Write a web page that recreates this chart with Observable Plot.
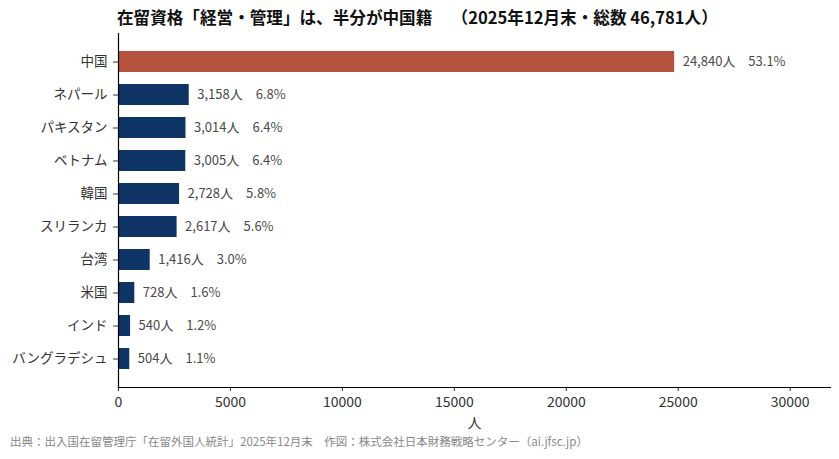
<!DOCTYPE html>
<html>
<head>
<meta charset="utf-8">
<script src="https://cdn.jsdelivr.net/npm/d3@7"></script>
<script src="https://cdn.jsdelivr.net/npm/@observablehq/plot@0.6"></script>
<style>
  body { margin: 0; background: #fff; font-family: "Noto Sans CJK JP", "Noto Sans", sans-serif; }
  #wrap { position: relative; width: 839px; height: 459px; overflow: hidden; }
  #title { position: absolute; left: 117px; top: 5px; font-size: 16.6px; font-weight: bold; color: #111; white-space: pre; }
  #chart { position: absolute; left: 0; top: 31px; }
  #caption { position: absolute; left: 10px; top: 433px; font-size: 11.5px; color: #888; white-space: pre; }
</style>
</head>
<body>
<div id="wrap">
  <div id="title">在留資格「経営・管理」は、半分が中国籍　<span style="margin-left:11px">（2025年12月末・総数 46,781人）</span></div>
  <div id="chart"></div>
  <div id="caption">出典：出入国在留管理庁「在留外国人統計」2025年12月末　作図：株式会社日本財務戦略センター（ai.jfsc.jp）</div>
</div>
<script>
const countries = ["中国", "ネパール", "パキスタン", "ベトナム", "韓国", "スリランカ", "台湾", "米国", "インド", "バングラデシュ"];
const counts = [24840, 3158, 3014, 3005, 2728, 2617, 1416, 728, 540, 504];
const shares = [53.1, 6.8, 6.4, 6.4, 5.8, 5.6, 3.0, 1.6, 1.2, 1.1];
const xTicks = [0, 5000, 10000, 15000, 20000, 25000, 30000];

const data = countries.map((c, i) => ({
  country: c,
  count: counts[i],
  share: shares[i],
  highlight: i === 0,
  label: `${d3.format(",")(counts[i])}人　${shares[i].toFixed(1)}%`
}));

const plot = Plot.plot({
  width: 839,
  height: 400,
  marginLeft: 118,
  marginRight: 9,
  marginTop: 2,
  marginBottom: 44,
  style: { fontFamily: '"Noto Sans CJK JP", sans-serif', fontSize: "13px", color: "#333", background: "transparent" },
  x: { domain: [0, 31800], ticks: xTicks, tickFormat: d => String(d) },
  y: { domain: countries, paddingInner: 0.35, paddingOuter: 0.485 },
  marks: [
    Plot.barX(data, { x: "count", y: "country", fill: d => d.highlight ? "#b5533e" : "#0e3466" }),
    Plot.text(data, { x: "count", y: "country", text: "label", textAnchor: "start", dx: 8, fill: "#4a4a4a", fontSize: 13 }),
    Plot.axisX({ ticks: xTicks, tickFormat: d => String(d), tickSize: 4, tickPadding: 6, fontSize: 14, label: "人", labelAnchor: "center", labelOffset: 40, labelArrow: "none" }),
    Plot.axisY({ tickSize: 5, tickPadding: 6, fontSize: 13.5, label: null }),
    Plot.frame({ anchor: "left", stroke: "#000", strokeWidth: 1.2 }),
    Plot.frame({ anchor: "bottom", stroke: "#000", strokeWidth: 1.2 })
  ]
});
document.getElementById("chart").appendChild(plot);
</script>
</body>
</html>
